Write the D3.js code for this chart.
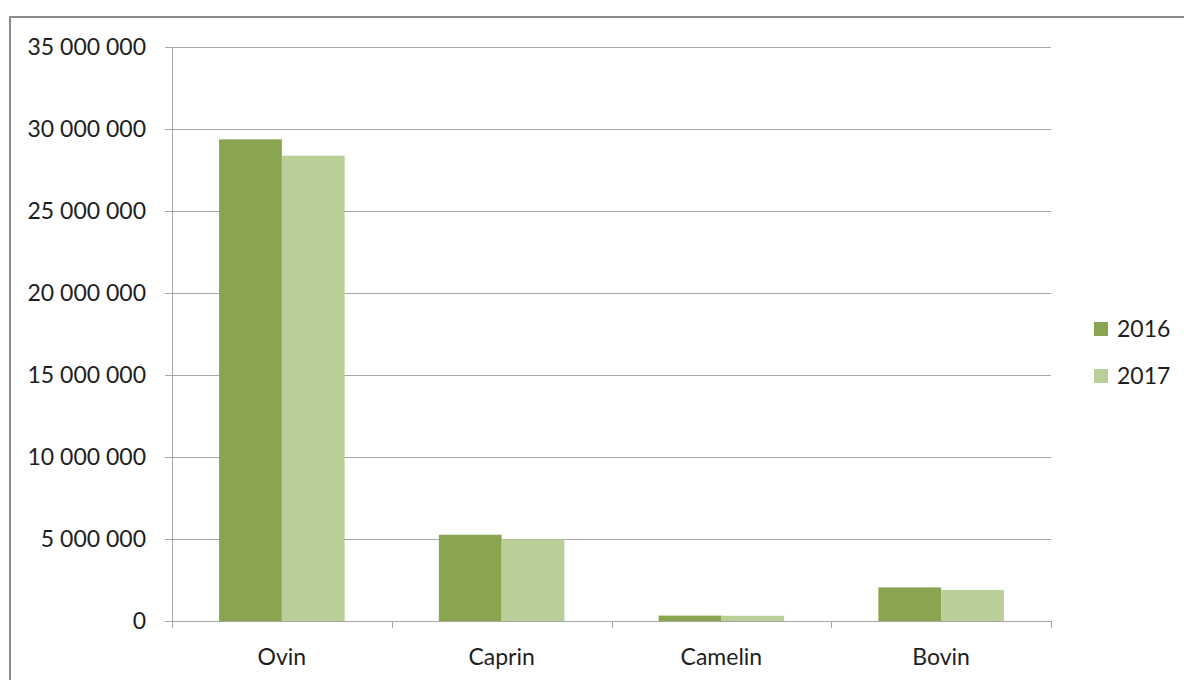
<!DOCTYPE html>
<html>
<head>
<meta charset="utf-8">
<script src="https://cdn.jsdelivr.net/npm/d3@7"></script>
<style>
  body { margin: 0; background: #fff; }
  svg text { font-family: Lato, "Open Sans", sans-serif; fill: #1e1e1e; }
</style>
</head>
<body>
<div id="chart"></div>
<script>
// donnees
var categories = ["Ovin", "Caprin", "Camelin", "Bovin"];
var series = ["2016", "2017"];
var values2016 = [29370000, 5260000, 330000, 2050000];
var values2017 = [28370000, 4980000, 320000, 1890000];
var yTicks = [0, 5000000, 10000000, 15000000, 20000000, 25000000, 30000000, 35000000];
var colors = ["#8aa550", "#bacf97"];

var W = 1184, H = 680;
var mLeft = 172, mRight = 1051, mTop = 47, mBottom = 621;

var svg = d3.select("#chart").append("svg")
  .attr("width", W).attr("height", H);

// cadre
svg.append("rect")
  .attr("x", 10).attr("y", 17)
  .attr("width", W).attr("height", H)
  .attr("fill", "none").attr("stroke", "#8c8c8c").attr("stroke-width", 2);

var y = d3.scaleLinear().domain([0, 35000000]).range([mBottom, mTop]);
var x = d3.scaleBand().domain(categories).range([mLeft, mRight]).paddingInner(0).paddingOuter(0);
var x1 = d3.scaleBand().domain(series).range([0, x.bandwidth()]).paddingInner(0).paddingOuter(0.75);

var fmt = function(d) { return d3.format(",")(d).replace(/,/g, " "); };

// grille + axe y
svg.append("g").selectAll("line")
  .data(yTicks.filter(function(d){ return d > 0; }))
  .enter().append("line")
    .attr("x1", mLeft - 7).attr("x2", mRight)
    .attr("y1", function(d){ return Math.round(y(d)) + 0.5; })
    .attr("y2", function(d){ return Math.round(y(d)) + 0.5; })
    .attr("stroke", "#a6a6a6").attr("stroke-width", 1);

svg.append("g").selectAll("text")
  .data(yTicks)
  .enter().append("text")
    .attr("x", 146)
    .attr("y", function(d){ return y(d); })
    .attr("dy", "0.35em")
    .attr("text-anchor", "end")
    .style("font-size", "23px")
    .text(fmt);

// barres
var groups = svg.append("g").selectAll("g")
  .data(categories)
  .enter().append("g")
    .attr("transform", function(d){ return "translate(" + x(d) + ",0)"; });

groups.selectAll("rect")
  .data(function(d, i){ return [{s: "2016", v: values2016[i]}, {s: "2017", v: values2017[i]}]; })
  .enter().append("rect")
    .attr("x", function(d){ return x1(d.s); })
    .attr("width", x1.bandwidth())
    .attr("y", function(d){ return y(d.v); })
    .attr("height", function(d){ return y(0) - y(d.v); })
    .attr("fill", function(d, i){ return colors[i]; });

// axe x
svg.append("line")
  .attr("x1", mLeft - 7).attr("x2", mRight)
  .attr("y1", mBottom + 0.5).attr("y2", mBottom + 0.5)
  .attr("stroke", "#a6a6a6");
svg.append("line")
  .attr("x1", mLeft + 0.5).attr("x2", mLeft + 0.5)
  .attr("y1", mTop).attr("y2", mBottom + 7)
  .attr("stroke", "#a6a6a6");

var bounds = categories.map(function(c){ return x(c); }).concat([mRight]);
svg.append("g").selectAll("line")
  .data(bounds.slice(1))
  .enter().append("line")
    .attr("x1", function(d){ return Math.round(d) + 0.5; })
    .attr("x2", function(d){ return Math.round(d) + 0.5; })
    .attr("y1", mBottom).attr("y2", mBottom + 7)
    .attr("stroke", "#a6a6a6");

svg.append("g").selectAll("text")
  .data(categories)
  .enter().append("text")
    .attr("x", function(d){ return x(d) + x.bandwidth() / 2; })
    .attr("y", 665)
    .attr("text-anchor", "middle")
    .style("font-size", "23px")
    .text(function(d){ return d; });

// legende
var leg = svg.append("g").selectAll("g")
  .data(series)
  .enter().append("g")
    .attr("transform", function(d, i){ return "translate(1094," + (322 + i * 47) + ")"; });
leg.append("rect")
  .attr("width", 14).attr("height", 14)
  .attr("fill", function(d, i){ return colors[i]; });
leg.append("text")
  .attr("x", 23).attr("y", 7).attr("dy", "0.35em")
  .style("font-size", "23px")
  .text(function(d){ return d; });
</script>
</body>
</html>
